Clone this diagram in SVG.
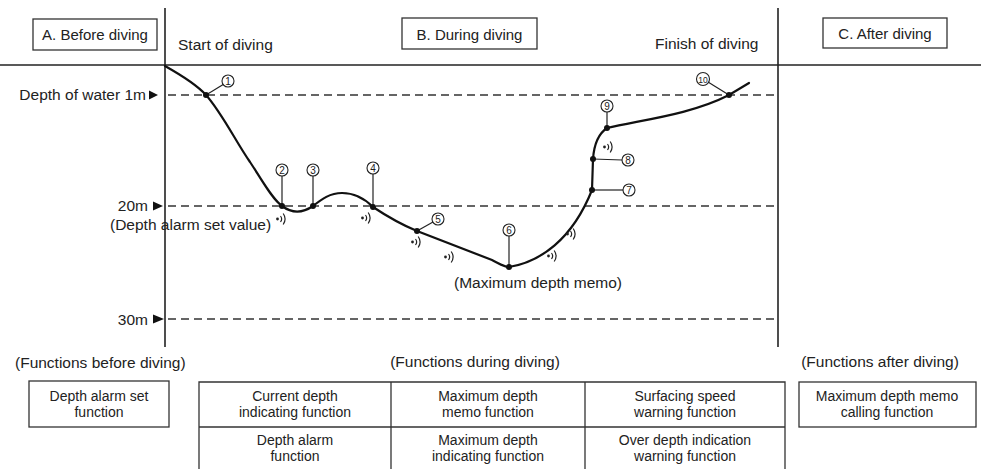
<svg xmlns="http://www.w3.org/2000/svg" width="981" height="469" viewBox="0 0 981 469">
<style>
text{font-family:"Liberation Sans",Arial,sans-serif;font-size:15.5px;fill:#222}
.lbl{font-size:15px}
.tb{font-size:14px}
.num{font-size:10px;text-anchor:middle}
.c{text-anchor:middle}
.box{fill:none;stroke:#333;stroke-width:1.3}
.axis{stroke:#222;stroke-width:1.6;fill:none}
.dash{stroke:#333;stroke-width:1.6;stroke-dasharray:8 5;fill:none}
.curve{stroke:#111;stroke-width:2.2;fill:none;stroke-linecap:round}
.lead{stroke:#222;stroke-width:1.2;fill:none}
.circ{fill:#fff;stroke:#222;stroke-width:1.1}
.dot{fill:#111}
.tri{fill:#111}
.arc{stroke:#222;stroke-width:1.2;fill:none}
</style>
<defs>
<g id="alarm"><circle cx="-3.5" cy="0" r="1.4" fill="#222"/><path class="arc" d="M-0.5,-3 Q1.8,0 -0.5,3"/><path class="arc" d="M2.2,-5.5 Q6,0 2.2,5.5"/></g>
</defs>
<rect width="981" height="469" fill="#fff"/>

<g id="frame">
<line class="axis" x1="0" y1="65" x2="981" y2="65"/>
<line class="axis" x1="165" y1="8" x2="165" y2="347"/>
<line class="axis" x1="778" y1="8" x2="778" y2="347"/>
<line class="dash" x1="168" y1="95" x2="774" y2="95"/>
<line class="dash" x1="168" y1="206" x2="774" y2="206"/>
<line class="dash" x1="168" y1="319" x2="776" y2="319"/>
</g>

<g id="phaseA"><rect class="box" x="33" y="19" width="124" height="31"/><text class="lbl c" x="95" y="40">A. Before diving</text></g>
<g id="phaseB"><rect class="box" x="402" y="18" width="135" height="31"/><text class="lbl c" x="469.5" y="40">B. During diving</text></g>
<g id="phaseC"><rect class="box" x="823" y="18" width="124" height="30"/><text class="lbl c" x="885" y="39">C. After diving</text></g>
<g id="start"><text x="178" y="50">Start of diving</text></g>
<g id="finish"><text x="655" y="49">Finish of diving</text></g>

<g id="depth1m"><text x="146" y="100" text-anchor="end">Depth of water 1m</text><path class="tri" d="M149,90.5 L158,95 L149,99.5 Z"/></g>
<g id="depth20m"><text x="148" y="210.5" text-anchor="end">20m</text><path class="tri" d="M153,201.5 L163,206 L153,210.5 Z"/><text x="110" y="229.5">(Depth alarm set value)</text></g>
<g id="depth30m"><text x="148" y="325" text-anchor="end">30m</text><path class="tri" d="M153,314.5 L164,319 L153,323.5 Z"/></g>

<g id="connectors">
<path class="curve" d="M165,66 C181,75 196,84 206,95 C222,113 236,142 250,162 C262,180 272,199 282,206 C290,212 300,215 313,206 C322,199 330,193 342,193 C355,193 365,199 373,207 C385,215 400,224 417,231 L492,260 C500,264 504,267 509,267 C540,262 572,240 592,190 L593,159 C594,145 598,134 607,128 C640,120 690,115 729,95 L749,83"/>
<line class="lead" x1="206" y1="95" x2="224" y2="84"/>
<line class="lead" x1="282" y1="176" x2="282" y2="206"/>
<line class="lead" x1="313" y1="176" x2="313" y2="206"/>
<line class="lead" x1="373" y1="174" x2="373" y2="207"/>
<line class="lead" x1="417" y1="231" x2="433" y2="222"/>
<line class="lead" x1="509" y1="236" x2="509" y2="267"/>
<line class="lead" x1="592" y1="190" x2="623" y2="190"/>
<line class="lead" x1="593" y1="159" x2="622" y2="160"/>
<line class="lead" x1="607" y1="112" x2="607" y2="128"/>
<line class="lead" x1="729" y1="95" x2="708" y2="82"/>
</g>

<g id="p1"><circle class="dot" cx="206" cy="95" r="3"/><circle class="circ" cx="228" cy="81" r="6"/><text class="num" x="228" y="84.5">1</text></g>
<g id="p2"><circle class="dot" cx="282" cy="206" r="3"/><circle class="circ" cx="282" cy="170" r="6"/><text class="num" x="282" y="173.5">2</text></g>
<g id="p3"><circle class="dot" cx="313" cy="206" r="3"/><circle class="circ" cx="313" cy="170" r="6"/><text class="num" x="313" y="173.5">3</text></g>
<g id="p4"><circle class="dot" cx="373" cy="207" r="3"/><circle class="circ" cx="373" cy="168" r="6"/><text class="num" x="373" y="171.5">4</text></g>
<g id="p5"><circle class="dot" cx="417" cy="231" r="3"/><circle class="circ" cx="438" cy="219" r="6"/><text class="num" x="438" y="222.5">5</text></g>
<g id="p6"><circle class="dot" cx="509" cy="267" r="3"/><circle class="circ" cx="509" cy="230" r="6"/><text class="num" x="509" y="233.5">6</text></g>
<g id="p7"><circle class="dot" cx="592" cy="190" r="3"/><circle class="circ" cx="629" cy="190" r="6"/><text class="num" x="629" y="193.5">7</text></g>
<g id="p8"><circle class="dot" cx="593" cy="159" r="3"/><circle class="circ" cx="628" cy="160" r="6"/><text class="num" x="628" y="163.5">8</text></g>
<g id="p9"><circle class="dot" cx="607" cy="128" r="3"/><circle class="circ" cx="607" cy="106" r="6"/><text class="num" x="607" y="109.5">9</text></g>
<g id="p10"><circle class="dot" cx="729" cy="95" r="3"/><circle class="circ" cx="703" cy="79" r="6.5"/><text class="num" x="703" y="82.5" style="font-size:8.5px">10</text></g>

<g id="alarms">
<use href="#alarm" x="281" y="219"/>
<use href="#alarm" x="366" y="218"/>
<use href="#alarm" x="416" y="242"/>
<use href="#alarm" x="449" y="257"/>
<use href="#alarm" x="552" y="256"/>
<use href="#alarm" x="571" y="234"/>
<use href="#alarm" x="608" y="147"/>
</g>

<g id="maxmemo"><text x="454" y="288">(Maximum depth memo)</text></g>

<g id="fnBefore"><text x="15" y="368">(Functions before diving)</text></g>
<g id="fnDuring"><text class="c" x="475" y="367">(Functions during diving)</text></g>
<g id="fnAfter"><text class="c" x="880" y="367">(Functions after diving)</text></g>

<g id="boxBefore"><rect class="box" x="29" y="381" width="140" height="46"/><text class="tb c" x="99" y="401">Depth alarm set</text><text class="tb c" x="99" y="417">function</text></g>

<g id="tableDuring">
<path class="box" d="M199,469 L199,382 L785,382 L785,469 M199,427 L785,427 M391,382 L391,469 M585,382 L585,469"/>
<text class="tb c" x="295" y="401">Current depth</text><text class="tb c" x="295" y="417">indicating function</text>
<text class="tb c" x="295" y="445">Depth alarm</text><text class="tb c" x="295" y="461">function</text>
<text class="tb c" x="488" y="401">Maximum depth</text><text class="tb c" x="488" y="417">memo function</text>
<text class="tb c" x="488" y="445">Maximum depth</text><text class="tb c" x="488" y="461">indicating function</text>
<text class="tb c" x="685" y="401">Surfacing speed</text><text class="tb c" x="685" y="417">warning function</text>
<text class="tb c" x="685" y="445">Over depth indication</text><text class="tb c" x="685" y="461">warning function</text>
</g>

<g id="boxAfter"><rect class="box" x="799" y="382" width="177" height="45"/><text class="tb c" x="887" y="401">Maximum depth memo</text><text class="tb c" x="887" y="417">calling function</text></g>
</svg>
